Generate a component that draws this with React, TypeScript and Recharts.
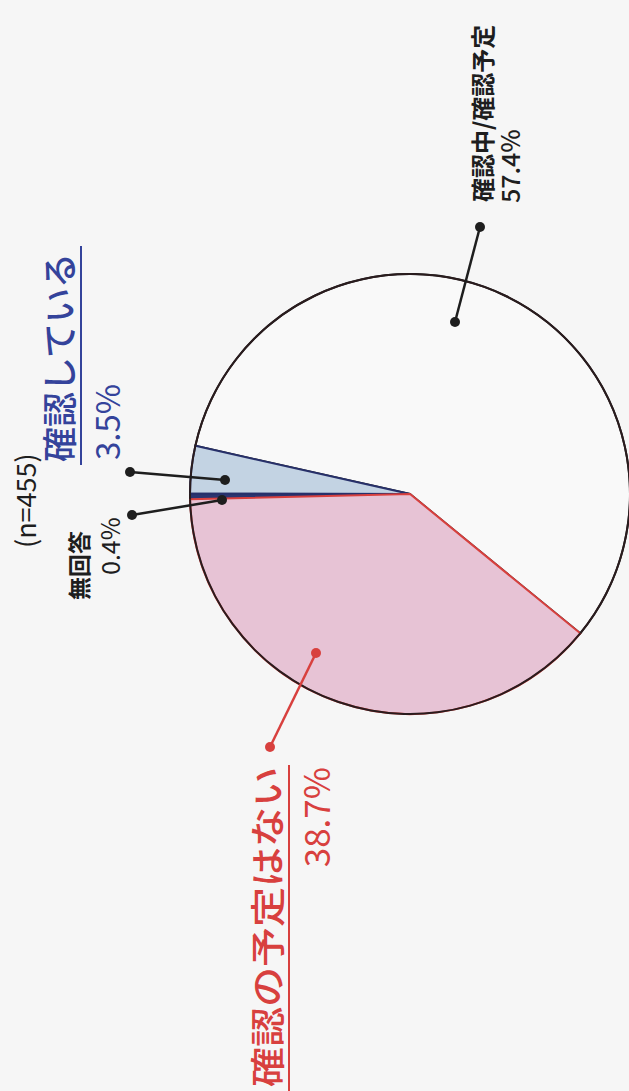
import React from "react";
import { PieChart, Pie, Cell } from "recharts";

// slice order follows the drawing: white, blue, thin navy, pink
const categories = ["確認中/確認予定", "確認している", "無回答", "確認の予定はない"];
const shares = [57.4, 3.5, 0.4, 38.7];
const shareLabels = ["57.4%", "3.5%", "0.4%", "38.7%"];
const sampleNote = "(n=455)";

const data = categories.map((name, i) => ({ name, value: shares[i] }));

const CX = 410;
const CY = 494;
const R = 220;

const FONT = "'Noto Sans CJK JP', 'Noto Sans', sans-serif";
const BLUE = "#34439b";
const RED = "#d8403e";
const INK = "#1e1e1e";

const fills = ["#f9f9f9", "#c3d3e3", "#2b3570", "#e7c3d5"];
const strokes = ["#1e1e1e", "#27306a", "#27306a", RED];

function VText(props: any) {
  const { x, y, size, color, weight, anchor, length, children } = props;
  return (
    <text
      x={x}
      y={y}
      transform={`rotate(-90 ${x} ${y})`}
      fontSize={size}
      fill={color}
      fontWeight={weight || 400}
      textAnchor={anchor || "start"}
      fontFamily={FONT}
      textLength={length}
      lengthAdjust={length ? "spacingAndGlyphs" : undefined}
    >
      {children}
    </text>
  );
}

function Leader({ x1, y1, x2, y2, color }: any) {
  return (
    <g>
      <line x1={x1} y1={y1} x2={x2} y2={y2} stroke={color} strokeWidth={2.5} />
      <circle cx={x1} cy={y1} r={5} fill={color} />
      <circle cx={x2} cy={y2} r={5} fill={color} />
    </g>
  );
}

function renderLabel(props: any) {
  const { index } = props;
  if (index === 0) {
    return (
      <g key="l0">
        <Leader x1={CX + 45} y1={CY - 172} x2={CX + 70} y2={CY - 267} color={INK} />
        <VText x={492} y={202} size={24} color={INK} weight={700}>{categories[0]}</VText>
        <VText x={520} y={203} size={25} color={INK} weight={500}>{shareLabels[0]}</VText>
      </g>
    );
  }
  if (index === 1) {
    return (
      <g key="l1">
        <Leader x1={CX - 185} y1={CY - 14} x2={CX - 280} y2={CY - 22} color={INK} />
        <VText x={73} y={462} size={35} color={BLUE} weight={500}>{categories[1]}</VText>
        <line x1={81} y1={246} x2={81} y2={465} stroke={BLUE} strokeWidth={2} />
        <VText x={120} y={460} size={33} color={BLUE}>{shareLabels[1]}</VText>
      </g>
    );
  }
  if (index === 2) {
    return (
      <g key="l2">
        <Leader x1={CX - 188} y1={CY + 6} x2={CX - 278} y2={CY + 21} color={INK} />
        <VText x={88} y={600} size={23} color={INK} weight={700}>{categories[2]}</VText>
        <VText x={120} y={575} size={25} color={INK}>{shareLabels[2]}</VText>
        <VText x={36} y={548} size={27} color={INK}>{sampleNote}</VText>
      </g>
    );
  }
  return (
    <g key="l3">
      <Leader x1={CX - 94} y1={CY + 159} x2={CX - 140} y2={CY + 253} color={RED} />
      <VText x={281} y={767} size={35} color={RED} weight={500} anchor="end" length={320}>
        {categories[3]}
      </VText>
      <line x1={289} y1={765} x2={289} y2={1091} stroke={RED} strokeWidth={2} />
      <VText x={330} y={767} size={35} color={RED} anchor="end">{shareLabels[3]}</VText>
    </g>
  );
}

export default function App() {
  return (
    <div style={{ position: "absolute", left: 0, top: 0, width: 629, height: 1091, background: "#f6f6f6" }}>
      <PieChart width={629} height={1091} margin={{ top: 0, right: 0, bottom: 0, left: 0 }}>
        <Pie
          data={data}
          dataKey="value"
          cx={CX}
          cy={CY}
          outerRadius={R}
          startAngle={-39.3}
          endAngle={320.7}
          isAnimationActive={false}
          labelLine={false}
        >
          {data.map((d, i) => (
            <Cell key={d.name} fill={fills[i]} stroke={strokes[i]} strokeWidth={2} />
          ))}
        </Pie>
        <Pie
          data={data}
          dataKey="value"
          cx={CX}
          cy={CY}
          innerRadius={R - 1}
          outerRadius={R + 1}
          startAngle={-39.3}
          endAngle={320.7}
          isAnimationActive={false}
          stroke="none"
          fill="#2a1c1e"
          labelLine={false}
          label={renderLabel}
        />
      </PieChart>
    </div>
  );
}
